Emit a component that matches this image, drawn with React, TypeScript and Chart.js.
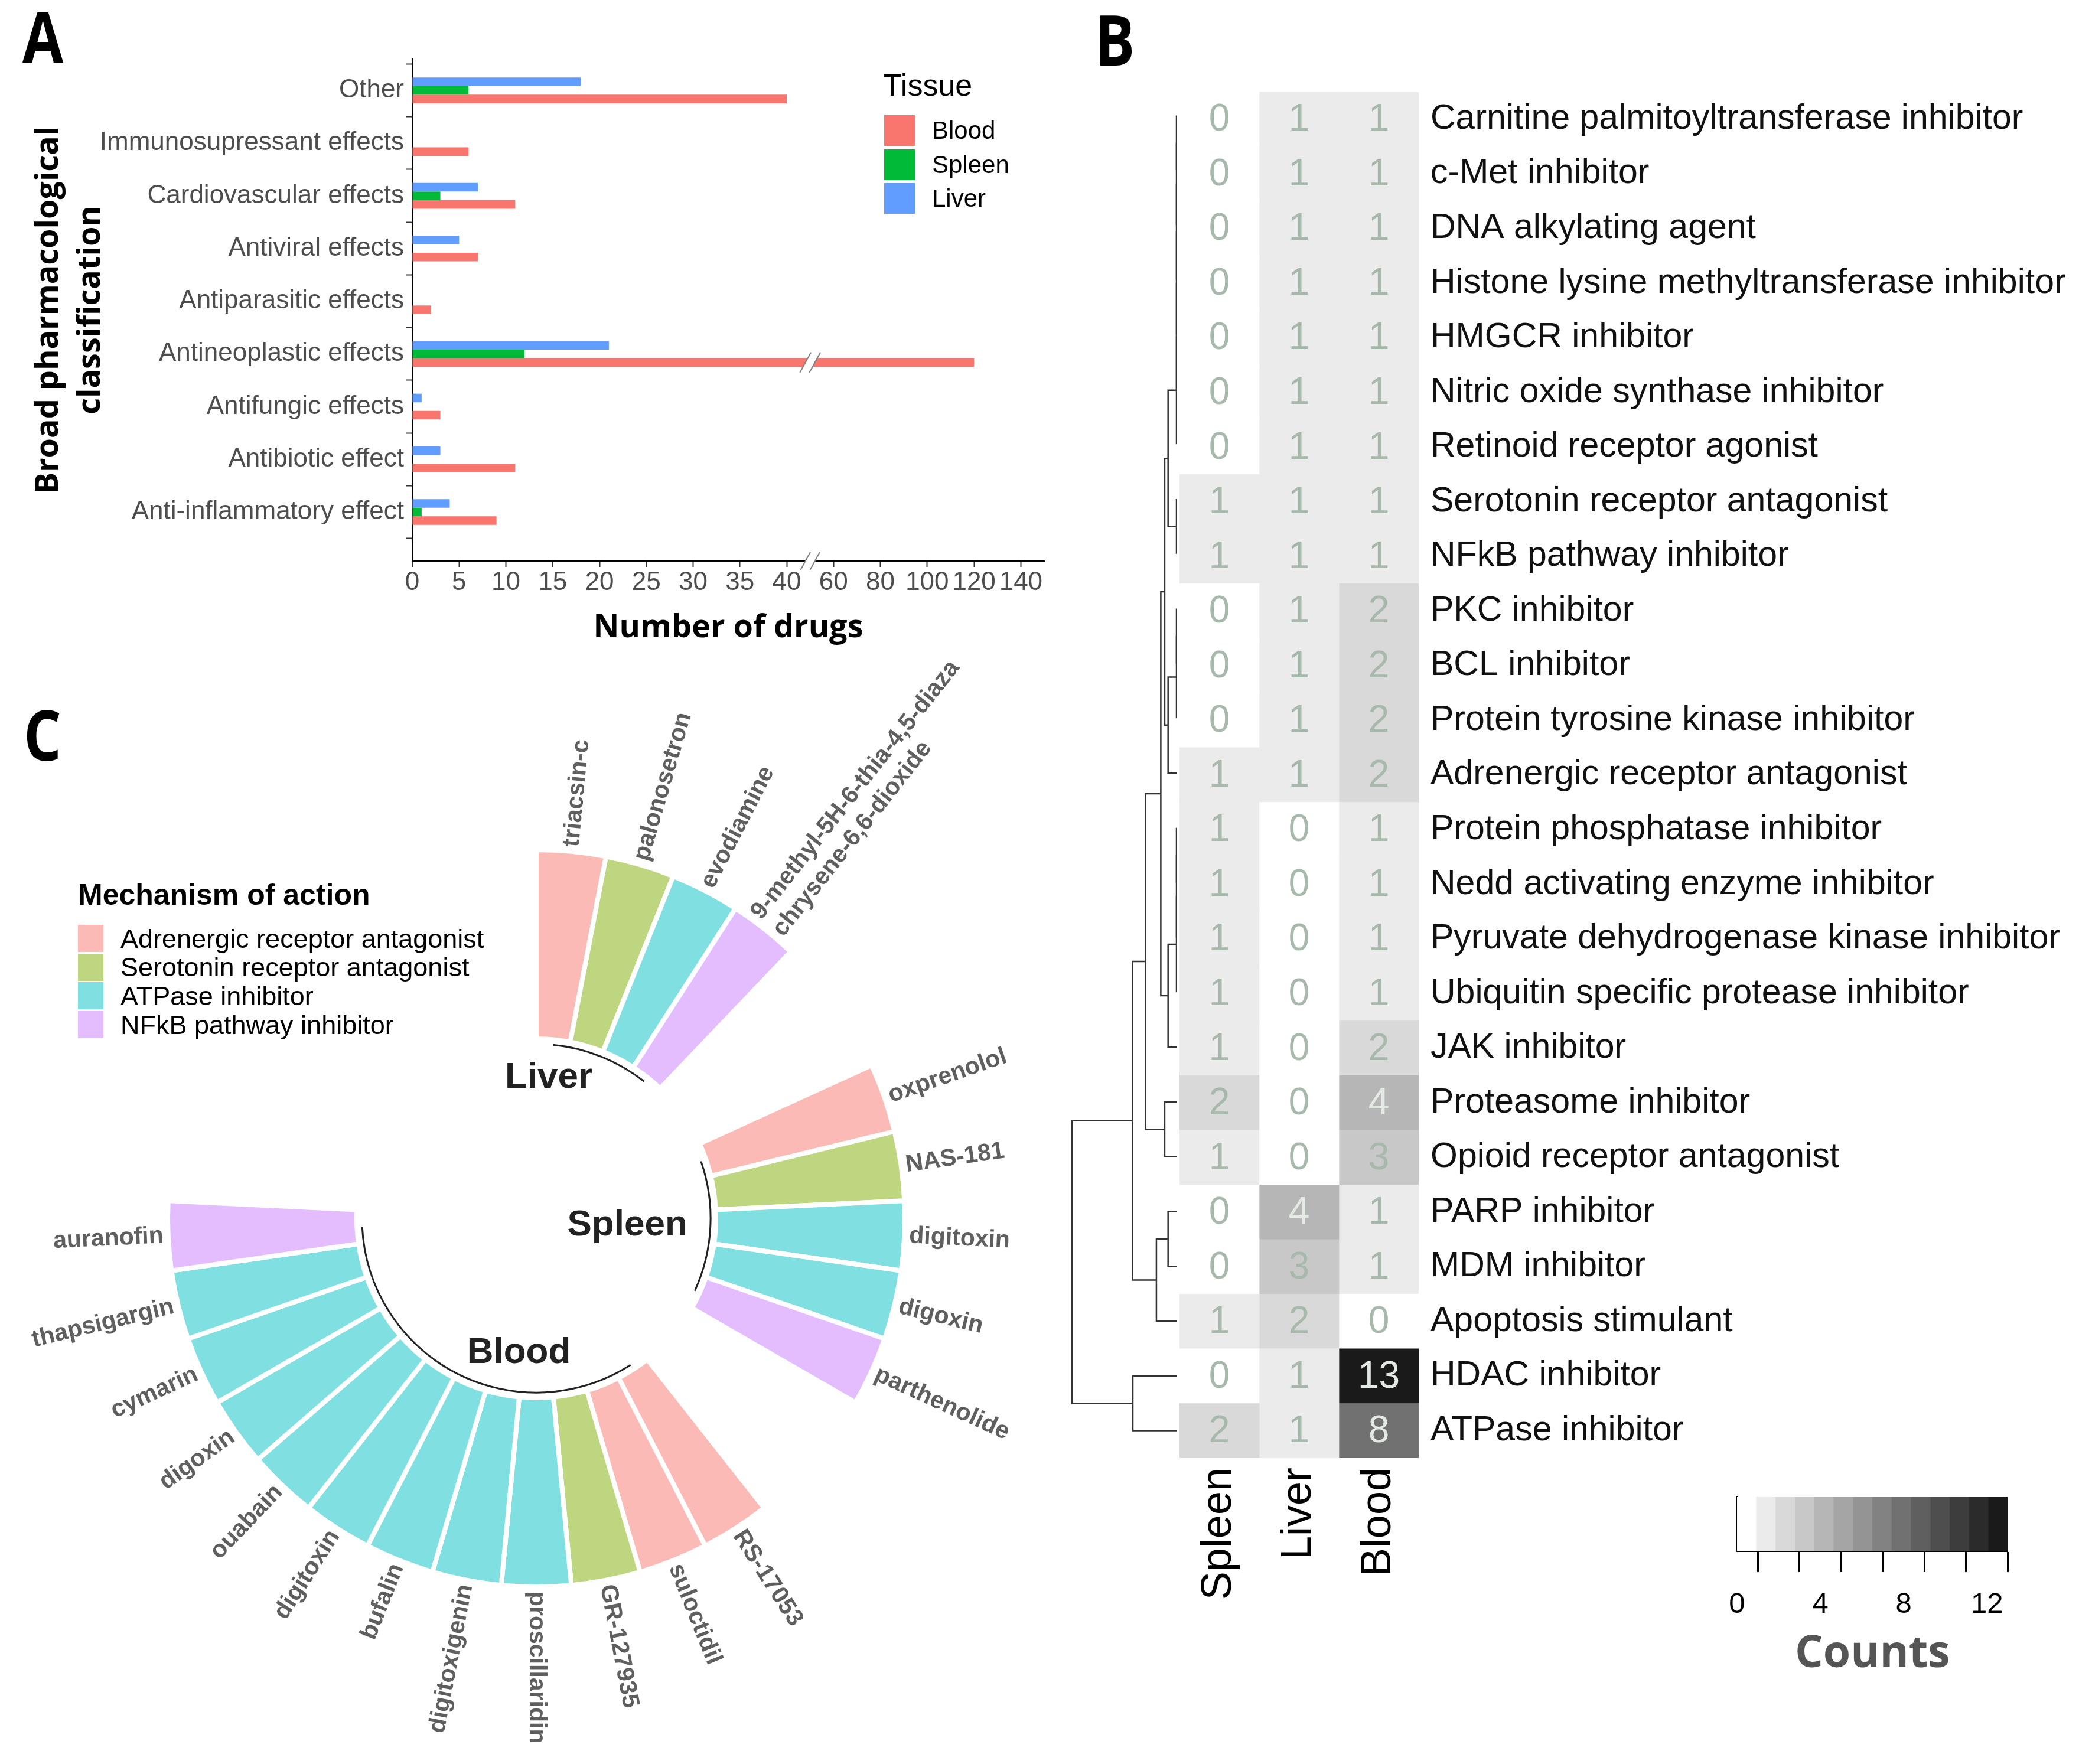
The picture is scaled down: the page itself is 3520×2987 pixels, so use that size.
import React, { useEffect, useRef } from 'react';
import { Chart, registerables } from 'chart.js';

Chart.register(...registerables);

const SANS = "'Liberation Sans', Arial, Helvetica, sans-serif";
const HEAVY = "'Open Sans', 'Liberation Sans', Arial, sans-serif";

/* ---------------- Panel A : broad pharmacological classification ---------------- */
const classCategories = [
  'Other',
  'Immunosupressant effects',
  'Cardiovascular effects',
  'Antiviral effects',
  'Antiparasitic effects',
  'Antineoplastic effects',
  'Antifungic effects',
  'Antibiotic effect',
  'Anti-inflammatory effect',
];
const liverDrugCounts = [18, null, 7, 5, null, 21, 1, 3, 4];
const spleenDrugCounts = [6, null, 3, null, null, 12, null, null, 1];
const bloodDrugCounts = [40, 6, 11, 7, 2, 120, 3, 11, 9];
const drugTickValues = [0, 5, 10, 15, 20, 25, 30, 35, 40, 60, 80, 100, 120, 140];
const tissueLegendNames = ['Blood', 'Spleen', 'Liver'];
const tissueLegendColors = ['#F8766D', '#00BA38', '#619CFF'];
const BREAK_LOW = 40;
const BREAK_HIGH = 60;
const BREAK_SQUEEZE = 4;
const brk = (v: number) => (v <= BREAK_LOW ? v : BREAK_LOW + (v - BREAK_LOW) / BREAK_SQUEEZE);

/* ---------------- Panel B : mechanism heatmap ---------------- */
const moaRows = [
  'Carnitine palmitoyltransferase inhibitor',
  'c-Met inhibitor',
  'DNA alkylating agent',
  'Histone lysine methyltransferase inhibitor',
  'HMGCR inhibitor',
  'Nitric oxide synthase inhibitor',
  'Retinoid receptor agonist',
  'Serotonin receptor antagonist',
  'NFkB pathway inhibitor',
  'PKC inhibitor',
  'BCL inhibitor',
  'Protein tyrosine kinase inhibitor',
  'Adrenergic receptor antagonist',
  'Protein phosphatase inhibitor',
  'Nedd activating enzyme inhibitor',
  'Pyruvate dehydrogenase kinase inhibitor',
  'Ubiquitin specific protease inhibitor',
  'JAK inhibitor',
  'Proteasome inhibitor',
  'Opioid receptor antagonist',
  'PARP inhibitor',
  'MDM inhibitor',
  'Apoptosis stimulant',
  'HDAC inhibitor',
  'ATPase inhibitor',
];
const heatColumns = ['Spleen', 'Liver', 'Blood'];
const spleenMoaCounts = [0, 0, 0, 0, 0, 0, 0, 1, 1, 0, 0, 0, 1, 1, 1, 1, 1, 1, 2, 1, 0, 0, 1, 0, 2];
const liverMoaCounts = [1, 1, 1, 1, 1, 1, 1, 1, 1, 1, 1, 1, 1, 0, 0, 0, 0, 0, 0, 0, 4, 3, 2, 1, 1];
const bloodMoaCounts = [1, 1, 1, 1, 1, 1, 1, 1, 1, 2, 2, 2, 2, 1, 1, 1, 1, 2, 4, 3, 1, 1, 0, 13, 8];

// dendrogram (hclust-style merge table: negative = leaf row, positive = earlier merge)
const mergeLeft = [-1, 1, 2, 3, 4, 5, -8, -10, 8, -14, 10, 11, 6, 9, 12, -21, 13, -19, 17, 16, -24, 19, 22, 23];
const mergeRight = [-2, -3, -4, -5, -6, -7, -9, -11, -12, -15, -16, -17, 7, -13, -18, -22, 14, -20, 15, -23, -25, 18, 20, 21];
const mergeHeight = [0, 0, 0, 0, 0, 0, 0, 0, 0, 0, 0, 0, 1.0, 1.0, 1.0, 1.0, 1.4, 1.4, 1.86, 2.38, 5.17, 3.66, 5.19, 12.35];

// colour key
const countBins = [0, 1, 2, 3, 4, 5, 6, 7, 8, 9, 10, 11, 12, 13];
const COUNT_MAX = 13;
const countTickValues = [0, 2, 4, 6, 8, 10, 12];
const countTickLabels = ['0', '', '4', '', '8', '', '12'];

/* ---------------- Panel C : circular bar plot ---------------- */
const moaNames = ['Adrenergic receptor antagonist', 'Serotonin receptor antagonist', 'ATPase inhibitor', 'NFkB pathway inhibitor'];
const moaColors = ['rgba(248,118,109,0.5)', 'rgba(124,174,0,0.5)', 'rgba(0,191,196,0.5)', 'rgba(199,124,255,0.5)'];
const circleGroups = ['Liver', 'Spleen', 'Blood'];
const liverDrugs = ['triacsin-c', 'palonosetron', 'evodiamine', '9-methyl-5H-6-thia-4,5-diaza\nchrysene-6,6-dioxide'];
const liverDrugMoa = ['Adrenergic receptor antagonist', 'Serotonin receptor antagonist', 'ATPase inhibitor', 'NFkB pathway inhibitor'];
const spleenDrugs = ['oxprenolol', 'NAS-181', 'digitoxin', 'digoxin', 'parthenolide'];
const spleenDrugMoa = ['Adrenergic receptor antagonist', 'Serotonin receptor antagonist', 'ATPase inhibitor', 'ATPase inhibitor', 'NFkB pathway inhibitor'];
const bloodDrugs = ['RS-17053', 'suloctidil', 'GR-127935', 'proscillaridin', 'digitoxigenin', 'bufalin', 'digitoxin', 'ouabain', 'digoxin', 'cymarin', 'thapsigargin', 'auranofin'];
const bloodDrugMoa = [
  'Adrenergic receptor antagonist', 'Adrenergic receptor antagonist', 'Serotonin receptor antagonist',
  'ATPase inhibitor', 'ATPase inhibitor', 'ATPase inhibitor', 'ATPase inhibitor',
  'ATPase inhibitor', 'ATPase inhibitor', 'ATPase inhibitor', 'ATPase inhibitor',
  'NFkB pathway inhibitor',
];
const groupEmptySlots = [2, 2, 8];
const drugBarValue = 1;

const heatColor = (v: number) => {
  if (v <= 0) return '#ffffff';
  const g = Math.max(0, Math.round(252 - 17.4 * v));
  return `rgb(${g},${g},${g})`;
};

export default function App() {
  const aRef = useRef<HTMLCanvasElement>(null);
  const dRef = useRef<HTMLCanvasElement>(null);
  const hRef = useRef<HTMLCanvasElement>(null);
  const kRef = useRef<HTMLCanvasElement>(null);
  const cRef = useRef<HTMLCanvasElement>(null);

  useEffect(() => {
    const charts: any[] = [];

    /* ---------- A ---------- */
    const toPts = (arr: any[]) =>
      arr.map((v, i) => ({ x: v == null ? null : brk(v), y: i })).filter((p) => p.x != null);

    const breakPlugin = {
      id: 'axisBreak',
      afterDraw(chart: any) {
        const { ctx } = chart;
        const xs = chart.scales.x;
        const bx = xs.getPixelForValue((brk(BREAK_LOW) + brk(BREAK_HIGH)) / 2);
        const mark = (cy: number, half: number) => {
          const gap = 16;
          const lean = half * 0.55;
          ctx.save();
          ctx.fillStyle = '#ffffff';
          ctx.beginPath();
          ctx.moveTo(bx - gap / 2 - lean, cy + half);
          ctx.lineTo(bx + gap / 2 - lean, cy + half);
          ctx.lineTo(bx + gap / 2 + lean, cy - half);
          ctx.lineTo(bx - gap / 2 + lean, cy - half);
          ctx.closePath();
          ctx.fill();
          ctx.strokeStyle = '#808080';
          ctx.lineWidth = 2;
          [-gap / 2, gap / 2].forEach((o) => {
            ctx.beginPath();
            ctx.moveTo(bx + o - lean, cy + half);
            ctx.lineTo(bx + o + lean, cy - half);
            ctx.stroke();
          });
          ctx.restore();
        };
        mark(xs.top, 15);
        chart.data.datasets.forEach((ds: any, di: number) => {
          const meta = chart.getDatasetMeta(di);
          meta.data.forEach((el: any, j: number) => {
            if (ds.data[j].x > brk(BREAK_HIGH)) mark(el.y, 17);
          });
        });
      },
    };

    charts.push(
      new Chart(aRef.current as any, {
        type: 'bar',
        data: {
          datasets: [
            { label: 'Liver', data: toPts(liverDrugCounts), backgroundColor: '#619CFF' },
            { label: 'Spleen', data: toPts(spleenDrugCounts), backgroundColor: '#00BA38' },
            { label: 'Blood', data: toPts(bloodDrugCounts), backgroundColor: '#F8766D' },
          ] as any,
        },
        options: {
          indexAxis: 'y',
          animation: false,
          responsive: false,
          layout: { padding: { top: 100, right: 32, left: 0, bottom: 0 } },
          datasets: { bar: { categoryPercentage: 0.49, barPercentage: 1, borderWidth: 0 } },
          plugins: { legend: { display: false }, tooltip: { enabled: false } },
          scales: {
            x: {
              type: 'linear',
              min: 0,
              max: 67.5,
              afterBuildTicks: (s: any) => {
                s.ticks = drugTickValues.map((v) => ({ value: brk(v) }));
              },
              ticks: {
                callback: (_v: any, i: number) => String(drugTickValues[i]),
                font: { family: SANS, size: 44 },
                color: '#4D4D4D',
                padding: 0,
                autoSkip: false,
                maxRotation: 0,
              },
              grid: { display: true, drawOnChartArea: false, drawTicks: true, tickLength: 10, tickColor: '#333', tickWidth: 2 },
              border: { display: true, color: '#000', width: 2.5 },
              title: {
                display: true,
                text: 'Number of drugs',
                font: { family: HEAVY, size: 54, weight: 'bold', lineHeight: 1.2 },
                color: '#000',
                padding: { top: 0, bottom: 24 },
              },
              afterFit: (s: any) => {
                s.height = 170;
              },
            },
            y: {
              type: 'linear',
              reverse: true,
              offset: false,
              min: -0.594,
              max: 8.93,
              afterBuildTicks: (s: any) => {
                s.ticks = classCategories.map((_c, i) => ({ value: i }));
              },
              ticks: {
                callback: (_v: any, i: number) => classCategories[i],
                font: { family: SANS, size: 44 },
                color: '#4D4D4D',
                padding: 4,
                autoSkip: false,
              },
              grid: { display: true, drawOnChartArea: false, drawTicks: true, tickLength: 10, tickColor: '#333', tickWidth: 2 },
              border: { display: true, color: '#000', width: 2.5 },
              title: {
                display: true,
                text: ['Broad pharmacological', 'classification'],
                font: { family: HEAVY, size: 54, weight: 'bold', lineHeight: 1.3 },
                color: '#000',
                padding: { top: 48, bottom: 0 },
              },
              afterFit: (s: any) => {
                s.width = 698;
              },
            },
          },
        } as any,
        plugins: [breakPlugin],
      })
    );

    /* ---------- B : dendrogram ---------- */
    const nodePos: number[] = [];
    const ref = (r: number) => (r < 0 ? { p: -r - 1, h: 0 } : { p: nodePos[r - 1], h: mergeHeight[r - 1] });
    const segs: any[] = [];
    mergeLeft.forEach((l, i) => {
      const a = ref(l);
      const b = ref(mergeRight[i]);
      const h = mergeHeight[i];
      nodePos[i] = (a.p + b.p) / 2;
      segs.push({
        data: [
          { x: a.h, y: a.p },
          { x: h, y: a.p },
          { x: h, y: b.p },
          { x: b.h, y: b.p },
        ],
        showLine: true,
        borderColor: '#333',
        borderWidth: 2.5,
        pointRadius: 0,
        pointHoverRadius: 0,
        fill: false,
        clip: false,
        tension: 0,
      });
    });
    const DENDRO_W = 192;
    const DENDRO_PX_PER_UNIT = 14.31;
    charts.push(
      new Chart(dRef.current as any, {
        type: 'scatter',
        data: { datasets: segs },
        options: {
          animation: false,
          responsive: false,
          layout: { padding: 0 },
          plugins: { legend: { display: false }, tooltip: { enabled: false } },
          scales: {
            x: { type: 'linear', reverse: true, min: 0, max: DENDRO_W / DENDRO_PX_PER_UNIT, display: false },
            y: { type: 'linear', reverse: true, min: -0.5, max: moaRows.length - 0.5, display: false },
          },
        } as any,
      })
    );

    /* ---------- B : heatmap ---------- */
    const heatCounts = [spleenMoaCounts, liverMoaCounts, bloodMoaCounts];
    const cellTextPlugin = {
      id: 'cellText',
      afterDatasetsDraw(chart: any) {
        const { ctx } = chart;
        ctx.save();
        ctx.font = `64px ${SANS}`;
        ctx.textAlign = 'center';
        ctx.textBaseline = 'middle';
        chart.data.datasets.forEach((ds: any, di: number) => {
          const meta = chart.getDatasetMeta(di);
          meta.data.forEach((el: any, j: number) => {
            const v = ds.counts[j];
            ctx.fillStyle = v >= 4 ? '#E3EAE4' : '#A7B9AA';
            ctx.fillText(String(v), (el.x + el.base) / 2, el.y + 2);
          });
        });
        ctx.restore();
      },
    };
    charts.push(
      new Chart(hRef.current as any, {
        type: 'bar',
        data: {
          labels: moaRows,
          datasets: heatColumns.map((name, c) => ({
            label: name,
            data: moaRows.map(() => 1),
            counts: heatCounts[c],
            backgroundColor: heatCounts[c].map(heatColor),
          })) as any,
        },
        options: {
          indexAxis: 'y',
          animation: false,
          responsive: false,
          layout: { padding: { top: 49, left: 0, right: 0, bottom: 0 } },
          datasets: { bar: { barPercentage: 1, categoryPercentage: 1, borderWidth: 0 } },
          plugins: { legend: { display: false }, tooltip: { enabled: false } },
          scales: {
            x: {
              type: 'linear',
              stacked: true,
              min: 0,
              max: heatColumns.length,
              position: 'bottom',
              afterBuildTicks: (s: any) => {
                s.ticks = heatColumns.map((_n, i) => ({ value: i + 0.5 }));
              },
              ticks: {
                callback: (_v: any, i: number) => heatColumns[i],
                font: { family: SANS, size: 72 },
                color: '#000',
                minRotation: 90,
                maxRotation: 90,
                padding: 16,
                autoSkip: false,
              },
              grid: { display: false, drawTicks: false },
              border: { display: false },
              afterFit: (s: any) => {
                s.height = 291;
              },
            },
            y: {
              type: 'category',
              stacked: true,
              position: 'right',
              ticks: { font: { family: SANS, size: 59 }, color: '#111', padding: 20, autoSkip: false },
              grid: { display: false, drawTicks: false },
              border: { display: false },
              afterFit: (s: any) => {
                s.width = 1118;
              },
            },
          },
        } as any,
        plugins: [cellTextPlugin],
      })
    );

    /* ---------- B : colour key ---------- */
    const binW = COUNT_MAX / countBins.length;
    charts.push(
      new Chart(kRef.current as any, {
        type: 'bar',
        data: {
          datasets: [
            {
              data: countBins.map((k) => ({ x: (k + 0.5) * binW, y: 1 })),
              backgroundColor: countBins.map(heatColor),
              borderWidth: 0,
              barPercentage: 1,
              categoryPercentage: 1,
            },
          ] as any,
        },
        options: {
          animation: false,
          responsive: false,
          layout: { padding: { left: 41, right: 80.5, top: 55, bottom: 0 } },
          plugins: { legend: { display: false }, tooltip: { enabled: false } },
          scales: {
            x: {
              type: 'linear',
              offset: false,
              min: 0,
              max: COUNT_MAX,
              afterBuildTicks: (s: any) => {
                s.ticks = countTickValues.map((v) => ({ value: v }));
              },
              ticks: {
                callback: (_v: any, i: number) => countTickLabels[i],
                font: { family: SANS, size: 49 },
                color: '#000',
                padding: 26,
                autoSkip: false,
                maxRotation: 0,
              },
              grid: { display: true, drawOnChartArea: false, drawTicks: true, tickLength: 36, tickColor: '#000', tickWidth: 3 },
              border: { display: true, color: '#000', width: 3 },
              title: {
                display: true,
                text: 'Counts',
                font: { family: HEAVY, size: 75, weight: 'bold', lineHeight: 1.2 },
                color: '#555',
                padding: { top: 0, bottom: 53 },
              },
              afterFit: (s: any) => {
                s.height = 274;
              },
            },
            y: {
              min: 0,
              max: 1,
              ticks: { display: false },
              grid: { display: false, drawTicks: false },
              border: { display: true, color: '#000', width: 3 },
              afterFit: (s: any) => {
                s.width = 0;
              },
            },
          },
        } as any,
      })
    );

    /* ---------- C : circular barplot ---------- */
    const groupDrugs = [liverDrugs, spleenDrugs, bloodDrugs];
    const groupMoa = [liverDrugMoa, spleenDrugMoa, bloodDrugMoa];
    const slots: any[] = [];
    circleGroups.forEach((_g, gi) => {
      groupDrugs[gi].forEach((d, di) => {
        slots.push({ label: d, group: gi, color: moaColors[moaNames.indexOf(groupMoa[gi][di])] });
      });
      for (let e = 0; e < groupEmptySlots[gi]; e++) slots.push({ label: null, group: gi, color: null });
    });
    const OUTER = 624;
    const INNER = 304;
    const BW = 8;
    const circlePlugin = {
      id: 'circleLabels',
      afterDatasetsDraw(chart: any) {
        const { ctx } = chart;
        const arcs = chart.getDatasetMeta(0).data;
        const cx = arcs[0].x;
        const cy = arcs[0].y;
        const outer = arcs[0].outerRadius - BW / 2;
        const mid = (el: any) => (el.startAngle + el.endAngle) / 2;
        ctx.save();
        ctx.fillStyle = '#5F5F5F';
        ctx.font = `bold 41px ${SANS}`;
        ctx.textBaseline = 'middle';
        slots.forEach((s, i) => {
          if (!s.label) return;
          const a = mid(arcs[i]);
          const theta = a + Math.PI / 2;
          const r = outer + 12;
          const right = theta < Math.PI;
          ctx.save();
          ctx.translate(cx + Math.cos(a) * r, cy + Math.sin(a) * r);
          ctx.rotate(right ? a : a + Math.PI);
          ctx.textAlign = right ? 'left' : 'right';
          const lines = String(s.label).split('\n');
          const lh = 41 * 1.15;
          lines.forEach((ln, j) => ctx.fillText(ln, 0, (j - (lines.length - 1) / 2) * lh));
          ctx.restore();
        });
        circleGroups.forEach((g, gi) => {
          const idx = slots.map((s, i) => (s.group === gi && s.label ? i : -1)).filter((i) => i >= 0);
          const a0 = mid(arcs[idx[0]]);
          const a1 = mid(arcs[idx[idx.length - 1]]);
          ctx.beginPath();
          ctx.arc(cx, cy, outer * 0.476, a0, a1);
          ctx.lineWidth = 3;
          ctx.strokeStyle = '#222';
          ctx.stroke();
          const am = (a0 + a1) / 2;
          const th = am + Math.PI / 2;
          const lr = outer * 0.413;
          ctx.font = `bold 62px ${SANS}`;
          ctx.fillStyle = '#222';
          ctx.textAlign = th < Math.PI ? 'right' : 'left';
          ctx.textBaseline = 'middle';
          ctx.fillText(g, cx + Math.cos(am) * lr, cy + Math.sin(am) * lr);
        });
        ctx.restore();
      },
    };
    charts.push(
      new Chart(cRef.current as any, {
        type: 'doughnut',
        data: {
          labels: slots.map((s) => (s.label ? String(s.label).replace('\n', ' ') : '')),
          datasets: [
            {
              data: slots.map(() => drugBarValue),
              backgroundColor: slots.map((s) => s.color || 'rgba(0,0,0,0)'),
              borderColor: '#ffffff',
              borderWidth: slots.map((s) => (s.label ? BW : 0)),
              hoverOffset: 0,
            },
          ],
        },
        options: {
          animation: false,
          responsive: false,
          rotation: 0,
          circumference: 360,
          radius: OUTER,
          cutout: `${(INNER / OUTER) * 100}%`,
          layout: { padding: { left: 128, right: 122, top: 243, bottom: 144 } },
          plugins: { legend: { display: false }, tooltip: { enabled: false } },
        } as any,
        plugins: [circlePlugin],
      })
    );

    return () => charts.forEach((c) => c.destroy());
  }, []);

  const abs = (o: any) => ({ position: 'absolute', whiteSpace: 'nowrap', ...o }) as any;
  const letter = (t: string, left: number, top: number) => (
    <div
      style={abs({
        left,
        top,
        fontFamily: HEAVY,
        fontWeight: 700,
        fontSize: 118,
        lineHeight: '118px',
        color: '#000',
        transform: 'scaleX(0.85)',
        transformOrigin: 'left top',
      })}
    >
      {t}
    </div>
  );

  return (
    <div style={{ position: 'absolute', left: 0, top: 0, width: 3520, height: 2987, background: '#fff', overflow: 'hidden', fontFamily: SANS }}>
      <canvas ref={aRef} width={1800} height={1120} style={{ position: 'absolute', left: 0, top: 0, width: 1800, height: 1120 }} />
      <canvas ref={dRef} width={192} height={2320} style={{ position: 'absolute', left: 1800, top: 149, width: 192, height: 2320 }} />
      <canvas ref={hRef} width={1523} height={2660} style={{ position: 'absolute', left: 1997, top: 100, width: 1523, height: 2660 }} />
      <canvas ref={kRef} width={580} height={420} style={{ position: 'absolute', left: 2900, top: 2480, width: 580, height: 420 }} />
      <canvas ref={cRef} width={1810} height={1947} style={{ position: 'absolute', left: 0, top: 1040, width: 1810, height: 1947 }} />

      {letter('A', 38, 2)}
      {letter('B', 1854, 7)}
      {letter('C', 40, 1184)}

      {/* Panel A legend */}
      <div style={abs({ left: 1495, top: 118, fontSize: 52, lineHeight: '52px', color: '#000' })}>Tissue</div>
      {tissueLegendNames.map((n, i) => (
        <React.Fragment key={n}>
          <div style={abs({ left: 1497, top: 195 + i * 57.5, width: 52, height: 52, background: tissueLegendColors[i] })} />
          <div style={abs({ left: 1578, top: 195 + i * 57.5 + 26 - 21, fontSize: 42, lineHeight: '42px', color: '#000' })}>{n}</div>
        </React.Fragment>
      ))}

      {/* Panel C legend */}
      <div style={abs({ left: 132, top: 1490, fontSize: 50, lineHeight: '50px', fontWeight: 700, color: '#000' })}>Mechanism of action</div>
      {moaNames.map((n, i) => (
        <React.Fragment key={n}>
          <div style={abs({ left: 132, top: 1566 + i * 48.7, width: 43, height: 46, background: moaColors[i] })} />
          <div style={abs({ left: 204, top: 1566 + i * 48.7 + 23 - 22.5, fontSize: 45, lineHeight: '45px', color: '#000' })}>{n}</div>
        </React.Fragment>
      ))}
    </div>
  );
}
